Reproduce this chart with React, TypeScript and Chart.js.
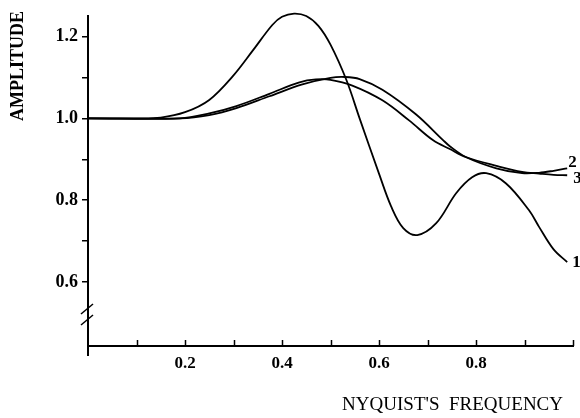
import { useEffect, useRef } from "react";
import { Chart, registerables } from "chart.js";

Chart.register(...registerables);

// ---- data ----
const curve1X = [0, 0.1, 0.15, 0.2, 0.25, 0.3, 0.34, 0.38, 0.4, 0.425, 0.45, 0.475, 0.5, 0.533, 0.56, 0.6, 0.625, 0.65, 0.679, 0.718, 0.759, 0.792, 0.821, 0.862, 0.909, 0.93, 0.96, 0.988];
const curve1Y = [1.0, 1.0, 1.002, 1.015, 1.045, 1.105, 1.166, 1.228, 1.248, 1.256, 1.25, 1.226, 1.18, 1.093, 1.0, 0.865, 0.785, 0.732, 0.715, 0.744, 0.817, 0.856, 0.866, 0.841, 0.776, 0.735, 0.68, 0.649];

const curve2X = [0, 0.19, 0.25, 0.306, 0.374, 0.442, 0.5, 0.53, 0.56, 0.607, 0.676, 0.732, 0.746, 0.78, 0.842, 0.895, 0.93, 0.96, 0.988];
const curve2Y = [1.0, 1.0, 1.008, 1.025, 1.054, 1.083, 1.099, 1.101, 1.096, 1.07, 1.01, 0.947, 0.932, 0.905, 0.878, 0.866, 0.867, 0.872, 0.878];

const curve3X = [0, 0.19, 0.25, 0.306, 0.374, 0.436, 0.47, 0.5, 0.545, 0.607, 0.662, 0.711, 0.746, 0.78, 0.842, 0.895, 0.93, 0.96, 0.988];
const curve3Y = [1.0, 1.0, 1.012, 1.03, 1.06, 1.088, 1.095, 1.094, 1.08, 1.044, 0.995, 0.947, 0.925, 0.905, 0.884, 0.869, 0.865, 0.862, 0.861];

const curveLabels = ["1", "2", "3"];
const xTickValues = [0.1, 0.2, 0.3, 0.4, 0.5, 0.6, 0.7, 0.8, 0.9];
const xTickLabels = ["", "0.2", "", "0.4", "", "0.6", "", "0.8", ""];
const yTickValues = [0.6, 0.7, 0.8, 0.9, 1.0, 1.1, 1.2];
const yTickLabels = ["0.6", "", "0.8", "", "1.0", "", "1.2"];
const xTitle = "NYQUIST'S  FREQUENCY";
const yTitle = "AMPLITUDE";

const SERIF = "'Liberation Serif', 'DejaVu Serif', serif";

const toPoints = (xs: number[], ys: number[]) => xs.map((x, i) => ({ x, y: ys[i] }));

const decorPlugin = {
  id: "decor",
  afterDraw(chart: any) {
    const ctx = chart.ctx;
    const { left, right, bottom } = chart.chartArea;
    const xs = chart.scales.x;
    ctx.save();
    ctx.strokeStyle = "#000";
    ctx.fillStyle = "#000";
    // inward x tick marks
    ctx.lineWidth = 1.5;
    [...xTickValues, 1.0].forEach((v) => {
      const px = Math.round(xs.getPixelForValue(v)) + 0.5;
      ctx.beginPath();
      ctx.moveTo(px, bottom);
      ctx.lineTo(px, bottom - 6);
      ctx.stroke();
    });
    // y axis extension below x axis
    ctx.lineWidth = 2;
    ctx.beginPath();
    ctx.moveTo(left, bottom);
    ctx.lineTo(left, bottom + 10);
    ctx.stroke();
    // axis break marks
    ctx.lineWidth = 1.5;
    [309, 320].forEach((cy) => {
      ctx.beginPath();
      ctx.moveTo(left - 7, cy + 5);
      ctx.lineTo(left + 5, cy - 5);
      ctx.stroke();
    });
    // curve labels
    ctx.font = `bold 17px ${SERIF}`;
    ctx.textBaseline = "middle";
    ctx.textAlign = "left";
    const offsets = [
      [5, 1],
      [1, -6],
      [6, 3],
    ];
    chart.data.datasets.forEach((ds: any, i: number) => {
      const meta = chart.getDatasetMeta(i);
      const last = meta.data[meta.data.length - 1];
      ctx.fillText(curveLabels[i], last.x + offsets[i][0], last.y + offsets[i][1]);
    });
    // axis titles
    ctx.font = `19px ${SERIF}`;
    ctx.textAlign = "right";
    ctx.textBaseline = "middle";
    ctx.fillText(xTitle, right - 10, 405);
    ctx.save();
    ctx.translate(18, 66);
    ctx.rotate(-Math.PI / 2);
    ctx.textAlign = "center";
    ctx.font = `bold 18px ${SERIF}`;
    ctx.fillText(yTitle, 0, 0);
    ctx.restore();
    ctx.restore();
  },
};

export default function App() {
  const ref = useRef<HTMLCanvasElement | null>(null);
  useEffect(() => {
    if (!ref.current) return;
    const lineStyle = {
      borderColor: "#000",
      borderWidth: 1.8,
      pointRadius: 0,
      fill: false,
      tension: 0.35,
      clip: false as any,
    };
    const chart = new Chart(ref.current, {
      type: "line",
      data: {
        datasets: [
          { label: curveLabels[0], data: toPoints(curve1X, curve1Y), ...lineStyle },
          { label: curveLabels[1], data: toPoints(curve2X, curve2Y), ...lineStyle },
          { label: curveLabels[2], data: toPoints(curve3X, curve3Y), ...lineStyle },
        ],
      },
      options: {
        animation: false,
        responsive: false,
        layout: { padding: { left: 8, top: 16, right: 7, bottom: 0 } },
        plugins: { legend: { display: false }, tooltip: { enabled: false } },
        scales: {
          x: {
            type: "linear",
            min: 0,
            max: 1,
            afterBuildTicks: (s: any) => {
              s.ticks = xTickValues.map((v) => ({ value: v }));
            },
            afterFit: (s: any) => {
              s.height = 72;
            },
            ticks: {
              color: "#000",
              padding: 7,
              maxRotation: 0,
              autoSkip: false,
              font: { family: SERIF, size: 17, weight: "bold" },
              callback: (v: any) => {
                const i = xTickValues.findIndex((t) => Math.abs(t - Number(v)) < 1e-6);
                return i >= 0 ? xTickLabels[i] : "";
              },
            },
            grid: { display: false, drawTicks: false },
            border: { display: true, color: "#000", width: 2 },
          },
          y: {
            type: "linear",
            min: 0.444,
            max: 1.25,
            afterBuildTicks: (s: any) => {
              s.ticks = yTickValues.map((v) => ({ value: v }));
            },
            afterFit: (s: any) => {
              s.width = 80;
            },
            ticks: {
              color: "#000",
              padding: 4,
              autoSkip: false,
              font: { family: SERIF, size: 18, weight: "bold" },
              callback: (v: any) => {
                const i = yTickValues.findIndex((t) => Math.abs(t - Number(v)) < 1e-6);
                return i >= 0 ? yTickLabels[i] : "";
              },
            },
            grid: {
              display: true,
              drawOnChartArea: false,
              drawTicks: true,
              tickLength: 6,
              color: "#000",
              lineWidth: 1.5,
            },
            border: { display: true, color: "#000", width: 2 },
          },
        },
      },
      plugins: [decorPlugin],
    });
    return () => chart.destroy();
  }, []);
  return (
    <div style={{ position: "fixed", left: 0, top: 0, width: 580, height: 418, background: "#fff" }}>
      <canvas ref={ref} width={580} height={418} style={{ display: "block" }} />
    </div>
  );
}
